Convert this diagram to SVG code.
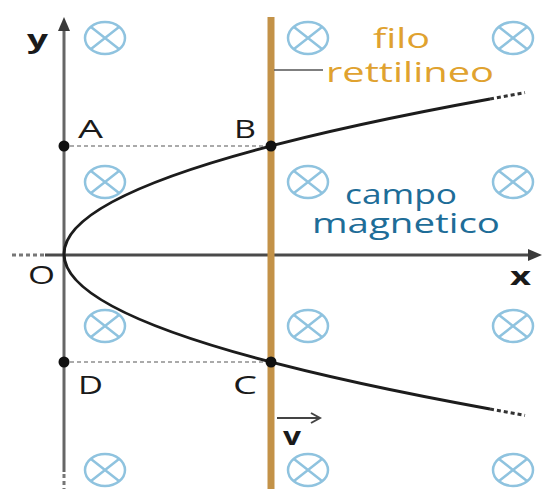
<svg xmlns="http://www.w3.org/2000/svg" width="542" height="489" viewBox="0 0 542 489">
<defs>
<style>
.axis{stroke:#4a4a4a;stroke-width:3;fill:none}
.yaxis{stroke:#666;stroke-width:3;fill:none}
.dash{stroke:#aaa;stroke-width:2;stroke-dasharray:4 3;fill:none}
.axdash{stroke:#777;stroke-width:3;stroke-dasharray:4 3;fill:none}
.curve{stroke:#1c1c1c;stroke-width:3;fill:none}
.cdash{stroke:#333;stroke-width:3;stroke-dasharray:4 3;fill:none}
.wire{stroke:#c39248;stroke-width:7}
.lbl{font-family:"Open Sans","Noto Sans","Liberation Sans",sans-serif;font-size:25px;fill:#1a1a1a}
.bold{font-weight:bold}
.orange{font-family:"Open Sans","Noto Sans","Liberation Sans",sans-serif;font-size:28px;fill:#e0a22f}
.blue{font-family:"Open Sans","Noto Sans","Liberation Sans",sans-serif;font-size:28px;fill:#1e6d98}
.bfield{stroke:#8fc3df;stroke-width:2.5;fill:none}
</style>
<marker id="tri" markerUnits="userSpaceOnUse" markerWidth="14" markerHeight="12" refX="0" refY="6" orient="auto" viewBox="0 0 14 12">
<path d="M0,0 L14,6 L0,12 z" fill="#3a3a3a"/>
</marker>
<marker id="chev" markerUnits="userSpaceOnUse" markerWidth="12" markerHeight="12" refX="10" refY="6" orient="auto" viewBox="0 0 12 12">
<path d="M1,1 L10,6 L1,11" fill="none" stroke="#444" stroke-width="2"/>
</marker>
<g id="bx">
<ellipse cx="0" cy="0" rx="20" ry="16" class="bfield"/>
<path d="M-14,-11 L14,11 M-14,11 L14,-11" class="bfield" stroke-width="2"/>
</g>
</defs>
<rect width="542" height="489" fill="#ffffff"/>

<g id="field">
<use href="#bx" x="105" y="38"/><use href="#bx" x="308" y="38"/><use href="#bx" x="513" y="38"/>
<use href="#bx" x="105" y="182"/><use href="#bx" x="308" y="182"/><use href="#bx" x="513" y="182"/>
<use href="#bx" x="105" y="326"/><use href="#bx" x="308" y="326"/><use href="#bx" x="513" y="326"/>
<use href="#bx" x="105" y="470"/><use href="#bx" x="308" y="470"/><use href="#bx" x="513" y="470"/>
</g>

<g id="connectors">
<line x1="64" y1="472" x2="64" y2="31" class="yaxis" marker-end="url(#tri)"/>
<line x1="64" y1="474" x2="64" y2="489" class="axdash"/>
<line x1="12" y1="255" x2="45" y2="255" class="axdash"/>
<line x1="45" y1="255" x2="528" y2="255" class="axis" marker-end="url(#tri)"/>
<line x1="70" y1="146" x2="266" y2="146" class="dash"/>
<line x1="70" y1="362" x2="266" y2="362" class="dash"/>
<path d="M490,99 Q-362,254 490,409" class="curve"/>
<path d="M490,99 L525,92.6" class="cdash"/>
<path d="M490,409 L525,415.4" class="cdash"/>
<line x1="271" y1="17" x2="271" y2="489" class="wire"/>
<line x1="274" y1="70" x2="323" y2="70" stroke="#555" stroke-width="1.5"/>
<line x1="277" y1="418" x2="320" y2="418" stroke="#444" stroke-width="2" marker-end="url(#chev)"/>
</g>

<g id="A"><circle cx="64" cy="146" r="5.5" fill="#111"/><text x="78" y="138" class="lbl" textLength="25" lengthAdjust="spacingAndGlyphs">A</text></g>
<g id="B"><circle cx="271" cy="146" r="5.5" fill="#111"/><text x="234" y="138" class="lbl" textLength="22" lengthAdjust="spacingAndGlyphs">B</text></g>
<g id="C"><circle cx="271" cy="362" r="5.5" fill="#111"/><text x="233" y="394" class="lbl" textLength="24" lengthAdjust="spacingAndGlyphs">C</text></g>
<g id="D"><circle cx="64" cy="362" r="5.5" fill="#111"/><text x="78" y="394" class="lbl" textLength="25" lengthAdjust="spacingAndGlyphs">D</text></g>
<g id="O"><text x="28" y="284" class="lbl" textLength="27" lengthAdjust="spacingAndGlyphs">O</text></g>
<g id="ylabel"><text x="27" y="48" class="lbl bold" font-size="27" textLength="21" lengthAdjust="spacingAndGlyphs">y</text></g>
<g id="xlabel"><text x="510" y="285" class="lbl bold" font-size="27" textLength="21" lengthAdjust="spacingAndGlyphs">x</text></g>
<g id="vlabel"><text x="283" y="445" class="lbl bold" font-size="24" textLength="18" lengthAdjust="spacingAndGlyphs">v</text></g>
<g id="filo">
<text x="373" y="48" class="orange" textLength="57" lengthAdjust="spacingAndGlyphs">filo</text>
<text x="326" y="82" class="orange" textLength="168" lengthAdjust="spacingAndGlyphs">rettilineo</text>
</g>
<g id="campo">
<text x="345" y="204" class="blue" textLength="112" lengthAdjust="spacingAndGlyphs">campo</text>
<text x="312" y="233" class="blue" textLength="188" lengthAdjust="spacingAndGlyphs">magnetico</text>
</g>
</svg>
